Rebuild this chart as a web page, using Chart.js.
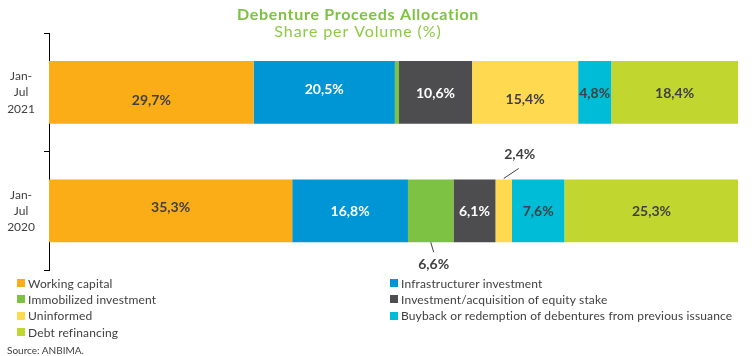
<!DOCTYPE html>
<html><head><meta charset="utf-8">
<script src="https://cdn.jsdelivr.net/npm/chart.js@4.4.0/dist/chart.umd.min.js"></script>
<style>
html,body{margin:0;padding:0;background:#fff;}
#wrap{position:relative;width:752px;height:356px;overflow:hidden;}
canvas{position:absolute;left:0;top:0;}
#legend{position:absolute;left:17px;top:275px;display:grid;grid-template-columns:373px auto;font-family:Lato,sans-serif;font-size:12px;color:#404040;letter-spacing:0.15px;}
.item{display:flex;align-items:center;height:16.3px;white-space:nowrap;}
.sw{width:8px;height:8px;margin-right:3px;flex:none;}
#source{position:absolute;left:7px;top:344px;font:10px Lato,sans-serif;color:#404040;}
</style></head>
<body><div id="wrap"><canvas id="c" width="752" height="356"></canvas><div id="legend"></div><div id="source">Source: ANBIMA.</div></div>
<script>
const categories = [["Jan-","Jul","2021"],["Jan-","Jul","2020"]];
const seriesNames = ["Working capital","Infrastructurer investment","Immobilized investment","Investment/acquisition of equity stake","Uninformed","Buyback or redemption of debentures from previous issuance","Debt refinancing"];
const workingCapital = [29.7, 35.3];
const infrastructure = [20.5, 16.8];
const immobilized = [0.6, 6.6];
const equityStake = [10.6, 6.1];
const uninformed = [15.4, 2.4];
const buyback = [4.8, 7.6];
const debtRefinancing = [18.4, 25.3];

const seriesValues = [workingCapital, infrastructure, immobilized, equityStake, uninformed, buyback, debtRefinancing];
const colors = ["#FBAD18","#0096D6","#7DC242","#4D4D4F","#FFDA50","#00BCD6","#C1D72F"];
const labelColors = ["#404040","#FFFFFF","#404040","#FFFFFF","#404040","#404040","#404040"];

const fmt = v => v.toFixed(1).replace('.', ',') + '%';

const titlePlugin = {
  id: 'titles',
  afterDraw(chart) {
    const ctx = chart.ctx;
    ctx.save();
    ctx.textAlign = 'center';
    ctx.textBaseline = 'middle';
    ctx.fillStyle = '#7DC242';
    ctx.font = 'bold 16px Lato';
    ctx.letterSpacing = '0.7px';
    ctx.fillText('Debenture Proceeds Allocation', 358, 15);
    ctx.fillStyle = '#8DCB45';
    ctx.font = '16px Lato';
    ctx.letterSpacing = '0.9px';
    ctx.fillText('Share per Volume (%)', 358, 32);
    ctx.restore();
  }
};

const labelPlugin = {
  id: 'segLabels',
  afterDatasetsDraw(chart, args, opts) {
    const ctx = chart.ctx;
    chart.data.datasets.forEach((ds, di) => {
      const meta = chart.getDatasetMeta(di);
      meta.data.forEach((bar, i) => {
        const v = ds.data[i];
        if (v < 1) return;
        const key = di + '-' + i;
        const cx = (bar.x + bar.base) / 2;
        const half = bar.height / 2;
        ctx.save();
        ctx.font = 'bold 14px Lato';
        ctx.textAlign = 'center';
        ctx.textBaseline = 'middle';
        const co = opts.callouts[key];
        if (co) {
          const sy = co.side < 0 ? bar.y - half : bar.y + half;
          ctx.strokeStyle = '#404040';
          ctx.lineWidth = 1;
          ctx.beginPath();
          ctx.moveTo(cx + co.x0, sy + co.side * co.y0);
          ctx.lineTo(cx + co.x1, sy + co.side * co.y1);
          ctx.stroke();
          ctx.fillStyle = '#404040';
          ctx.fillText(fmt(v), cx + co.lx, sy + co.side * co.ly);
        } else {
          ctx.fillStyle = labelColors[di];
          const dy = opts.nudge[key] || 0;
          ctx.fillText(fmt(v), cx, bar.y + dy);
        }
        ctx.restore();
      });
    });
  }
};

const chart = new Chart(document.getElementById('c'), {
  type: 'bar',
  data: {
    labels: categories,
    datasets: seriesNames.map((n, k) => ({
      label: n,
      data: seriesValues[k],
      backgroundColor: colors[k],
      borderWidth: 0,
      categoryPercentage: 1,
      barPercentage: 0.53
    }))
  },
  options: {
    indexAxis: 'y',
    responsive: false,
    animation: false,
    devicePixelRatio: 1,
    layout: { padding: { left: 0, right: 14, top: 33, bottom: 86 } },
    scales: {
      x: { stacked: true, display: false, min: 0, max: 100 },
      y: {
        stacked: true,
        grid: { display: true, drawOnChartArea: false, drawTicks: true, tickLength: 5, tickColor: '#000', offset: true },
        border: { display: true, color: '#000', width: 1 },
        ticks: { font: { family: 'Lato', size: 12, lineHeight: 1.35 }, color: '#404040', crossAlign: 'center', padding: 9 },
        afterFit(scale) { scale.width = 49; }
      }
    },
    plugins: {
      legend: { display: false },
      tooltip: { enabled: false },
      segLabels: {
        nudge: { '0-0': 8, '1-0': -3, '3-0': 1, '4-0': 7, '5-0': 1, '6-0': 1, '0-1': -3, '1-1': 1, '3-1': 1, '5-1': 1, '6-1': 1 },
        callouts: {
          '4-1': { side: -1, x0: 0, y0: 1, x1: 15, y1: 11, lx: 16, ly: 25 },
          '2-1': { side: 1, x0: 0, y0: 0, x1: 3, y1: 10, lx: 3, ly: 22 }
        }
      }
    }
  },
  plugins: [titlePlugin, labelPlugin]
});

const leg = document.getElementById('legend');
chart.data.datasets.forEach(ds => {
  const it = document.createElement('div');
  it.className = 'item';
  const sw = document.createElement('span');
  sw.className = 'sw';
  sw.style.background = ds.backgroundColor;
  const tx = document.createElement('span');
  tx.textContent = ds.label;
  it.appendChild(sw); it.appendChild(tx);
  leg.appendChild(it);
});
</script>
</body></html>
